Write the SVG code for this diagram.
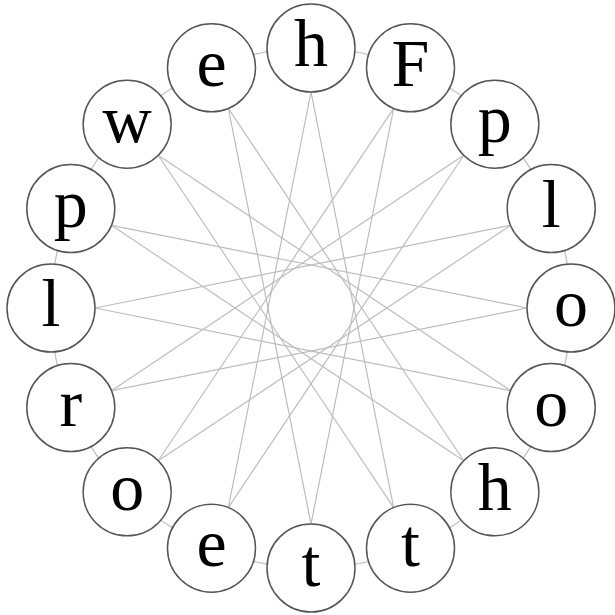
<svg xmlns="http://www.w3.org/2000/svg" width="615" height="615" viewBox="0 0 615 615">
<style>
.edge{fill:none;stroke:#bdbdbd;stroke-width:1.2}
.node circle{fill:#fff;stroke:#555;stroke-width:1.5}
.node text{font-family:"Liberation Serif","Times New Roman",serif;font-size:68px;fill:#000;text-anchor:middle}
</style>
<rect width="615" height="615" fill="#fff"/>
<g id="connectors">
<path class="edge" d="M311 48A260 260 0 0 1 410.5 67.79"/>
<path class="edge" d="M410.5 67.79A260 260 0 0 1 494.85 124.15"/>
<path class="edge" d="M494.85 124.15A260 260 0 0 1 551.21 208.5"/>
<path class="edge" d="M551.21 208.5A260 260 0 0 1 571 308"/>
<path class="edge" d="M571 308A260 260 0 0 1 551.21 407.5"/>
<path class="edge" d="M551.21 407.5A260 260 0 0 1 494.85 491.85"/>
<path class="edge" d="M494.85 491.85A260 260 0 0 1 410.5 548.21"/>
<path class="edge" d="M410.5 548.21A260 260 0 0 1 311 568"/>
<path class="edge" d="M311 568A260 260 0 0 1 211.5 548.21"/>
<path class="edge" d="M211.5 548.21A260 260 0 0 1 127.15 491.85"/>
<path class="edge" d="M127.15 491.85A260 260 0 0 1 70.79 407.5"/>
<path class="edge" d="M70.79 407.5A260 260 0 0 1 51 308"/>
<path class="edge" d="M51 308A260 260 0 0 1 70.79 208.5"/>
<path class="edge" d="M70.79 208.5A260 260 0 0 1 127.15 124.15"/>
<path class="edge" d="M127.15 124.15A260 260 0 0 1 211.5 67.79"/>
<path class="edge" d="M211.5 67.79A260 260 0 0 1 311 48"/>
<line class="edge" x1="311" y1="92" x2="393.66" y2="507.56"/>
<line class="edge" x1="393.66" y1="108.44" x2="311" y2="524"/>
<line class="edge" x1="463.74" y1="155.26" x2="228.34" y2="507.56"/>
<line class="edge" x1="510.56" y1="225.34" x2="158.26" y2="460.74"/>
<line class="edge" x1="527" y1="308" x2="111.44" y2="390.66"/>
<line class="edge" x1="510.56" y1="390.66" x2="95" y2="308"/>
<line class="edge" x1="463.74" y1="460.74" x2="111.44" y2="225.34"/>
<line class="edge" x1="393.66" y1="507.56" x2="158.26" y2="155.26"/>
<line class="edge" x1="311" y1="524" x2="228.34" y2="108.44"/>
<line class="edge" x1="228.34" y1="507.56" x2="311" y2="92"/>
<line class="edge" x1="158.26" y1="460.74" x2="393.66" y2="108.44"/>
<line class="edge" x1="111.44" y1="390.66" x2="463.74" y2="155.26"/>
<line class="edge" x1="95" y1="308" x2="510.56" y2="225.34"/>
<line class="edge" x1="111.44" y1="225.34" x2="527" y2="308"/>
<line class="edge" x1="158.26" y1="155.26" x2="510.56" y2="390.66"/>
<line class="edge" x1="228.34" y1="108.44" x2="463.74" y2="460.74"/>
</g>
<g id="n0" class="node"><circle cx="311" cy="48" r="44"/><text x="311" y="66">h</text></g>
<g id="n1" class="node"><circle cx="410.5" cy="67.79" r="44"/><text x="410.5" y="85.79">F</text></g>
<g id="n2" class="node"><circle cx="494.85" cy="124.15" r="44"/><text x="494.85" y="142.15">p</text></g>
<g id="n3" class="node"><circle cx="551.21" cy="208.5" r="44"/><text x="551.21" y="226.5">l</text></g>
<g id="n4" class="node"><circle cx="571" cy="308" r="44"/><text x="571" y="326">o</text></g>
<g id="n5" class="node"><circle cx="551.21" cy="407.5" r="44"/><text x="551.21" y="425.5">o</text></g>
<g id="n6" class="node"><circle cx="494.85" cy="491.85" r="44"/><text x="494.85" y="509.85">h</text></g>
<g id="n7" class="node"><circle cx="410.5" cy="548.21" r="44"/><text x="410.5" y="566.21">t</text></g>
<g id="n8" class="node"><circle cx="311" cy="568" r="44"/><text x="311" y="586">t</text></g>
<g id="n9" class="node"><circle cx="211.5" cy="548.21" r="44"/><text x="211.5" y="566.21">e</text></g>
<g id="n10" class="node"><circle cx="127.15" cy="491.85" r="44"/><text x="127.15" y="509.85">o</text></g>
<g id="n11" class="node"><circle cx="70.79" cy="407.5" r="44"/><text x="70.79" y="425.5">r</text></g>
<g id="n12" class="node"><circle cx="51" cy="308" r="44"/><text x="51" y="326">l</text></g>
<g id="n13" class="node"><circle cx="70.79" cy="208.5" r="44"/><text x="70.79" y="226.5">p</text></g>
<g id="n14" class="node"><circle cx="127.15" cy="124.15" r="44"/><text x="127.15" y="142.15">w</text></g>
<g id="n15" class="node"><circle cx="211.5" cy="67.79" r="44"/><text x="211.5" y="85.79">e</text></g>
</svg>
